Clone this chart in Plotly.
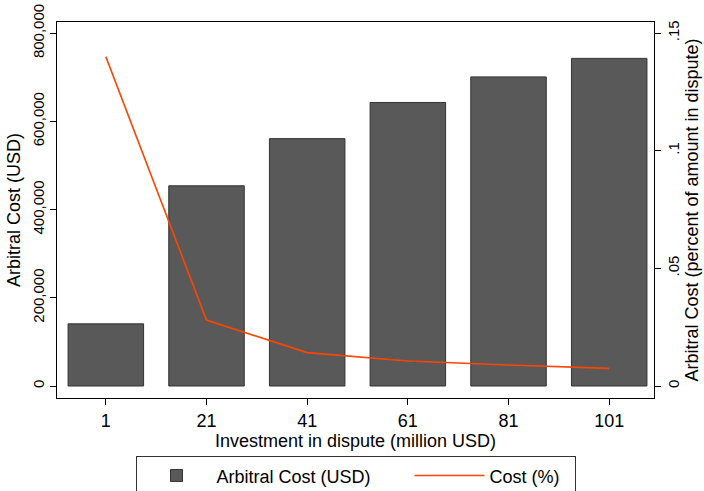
import plotly.graph_objects as go

investment = [1, 21, 41, 61, 81, 101]
cost_usd = [141000, 454000, 561000, 643000, 701000, 743000]
cost_pct = [0.1400, 0.0280, 0.0142, 0.0106, 0.0089, 0.0075]

left_ticks = [0, 200000, 400000, 600000, 800000]
left_labels = ["0", "200,000", "400,000", "600,000", "800,000"]
right_ticks = [0, 0.05, 0.10, 0.15]
right_labels = ["0", ".05", ".1", ".15"]
x_ticks = [1, 21, 41, 61, 81, 101]

FONT = "Arial, Liberation Sans, Helvetica, sans-serif"
BIG = 18
SMALL = 15

fig = go.Figure()
fig.add_trace(go.Bar(
    x=investment, y=cost_usd, width=15, name="Arbitral Cost (USD)",
    marker=dict(color="#595959", line=dict(color="#333333", width=1)),
    yaxis="y", legendwidth=188,
))
fig.add_trace(go.Scatter(
    x=investment, y=cost_pct, mode="lines", name="Cost (%)",
    line=dict(color="#ff4500", width=1.6), yaxis="y2", legendwidth=80,
))

fig.update_layout(
    width=704, height=491,
    margin=dict(l=57, r=50, t=22, b=93),
    paper_bgcolor="white", plot_bgcolor="white",
    font=dict(family=FONT, size=BIG, color="black"),
    showlegend=True,
    legend=dict(
        orientation="h", x=0.5, xanchor="center",
        yref="container", y=0.031, yanchor="middle",
        bordercolor="#333333", borderwidth=1, font=dict(size=BIG),
        itemwidth=70, traceorder="normal",
    ),
    xaxis=dict(
        range=[-8.7, 109.9], tickvals=x_ticks, ticks="outside", ticklen=6,
        tickcolor="black", showline=True, linecolor="black", linewidth=1,
        mirror=True, showgrid=False, zeroline=False, automargin=False,
        tickfont=dict(size=BIG),
        title=dict(text="Investment in dispute (million USD)", standoff=2,
                   font=dict(size=BIG)),
    ),
    yaxis=dict(
        range=[-27200, 825500], tickvals=left_ticks, ticktext=left_labels,
        tickangle=-90, ticks="outside", ticklen=6, tickcolor="black",
        showline=True, linecolor="black", linewidth=1, showgrid=False,
        zeroline=False, automargin=False, tickfont=dict(size=SMALL),
        title=dict(text="Arbitral Cost (USD)", standoff=4, font=dict(size=BIG)),
    ),
    yaxis2=dict(
        overlaying="y", side="right", range=[-0.0051, 0.1547],
        tickvals=right_ticks, ticktext=right_labels, tickangle=-90,
        ticks="outside", ticklen=6, tickcolor="black", showline=True,
        linecolor="black", linewidth=1, showgrid=False, zeroline=False,
        automargin=False, tickfont=dict(size=SMALL),
        title=dict(text="Arbitral Cost (percent of amount in dispute)", standoff=4,
                   font=dict(size=BIG)),
    ),
)

fig.write_html("out.html")
